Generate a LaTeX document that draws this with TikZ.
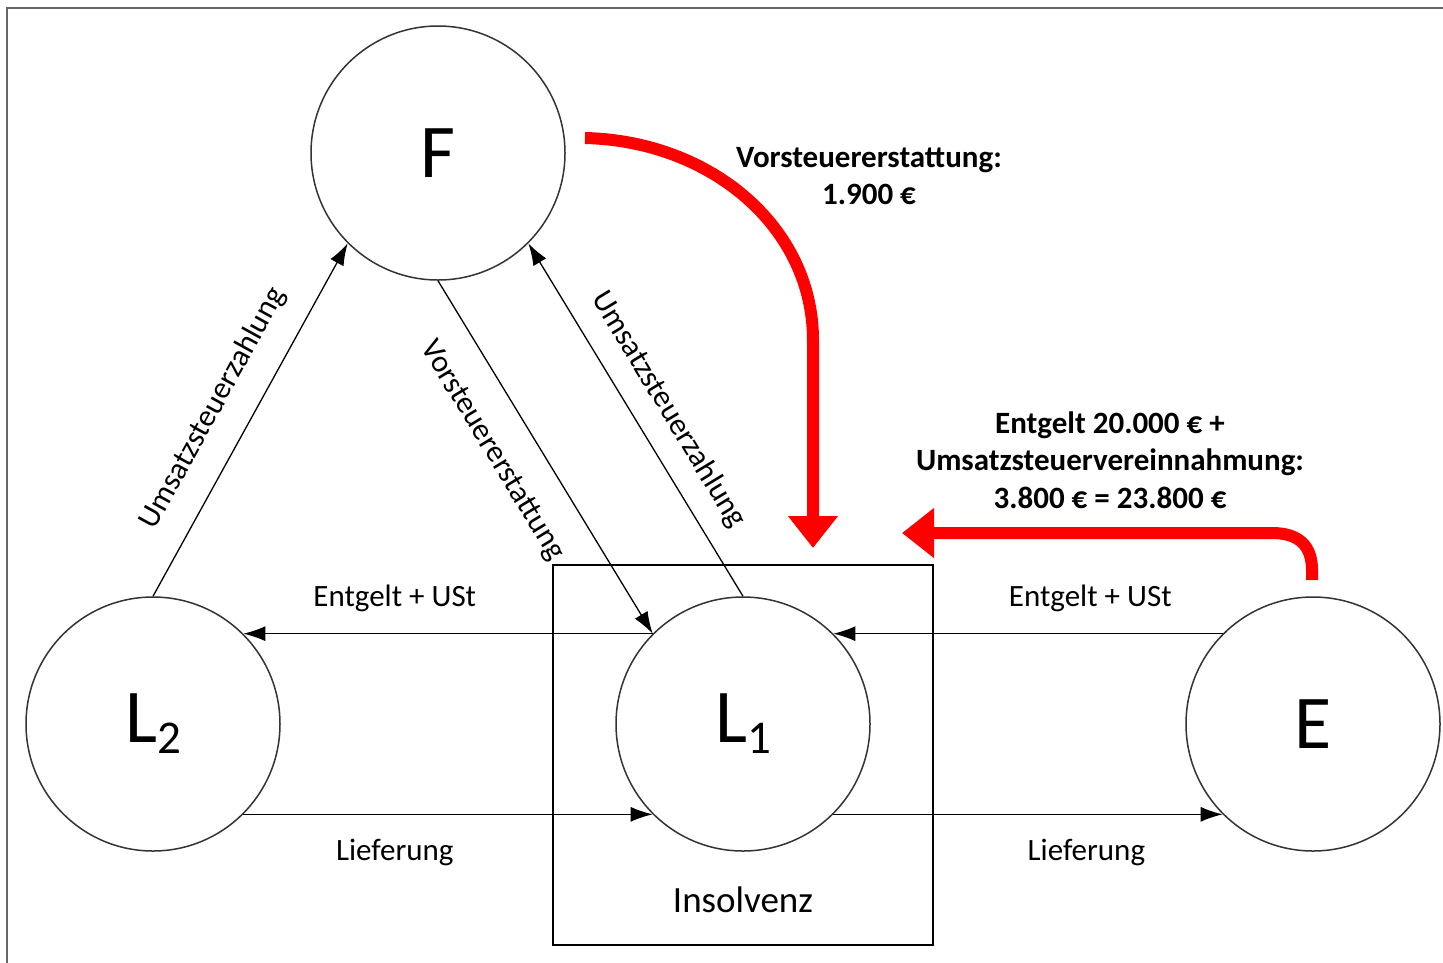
\documentclass[tikz,border=0pt]{standalone}
\usepackage{fontspec}
\setmainfont{Carlito}
\usetikzlibrary{arrows.meta}
\tikzset{> = {Latex[length=22pt,width=15pt]},
  party/.style={draw=black!80, line width=1.5pt, circle, minimum size=254pt,
    inner sep=0pt, font=\fontsize{76}{76}\selectfont},
  flow/.style={->, line width=1.3pt},
  lbl/.style={inner sep=0pt, font=\fontsize{31}{36}\selectfont},
  note/.style={inner sep=0pt, align=center, font=\fontsize{31}{37.5}\selectfont\bfseries},
  redarrow/.style={-{Triangle[width=48pt,length=32pt]}, line width=12pt, red}}
\newcommand{\idx}[1]{\raisebox{-11pt}{\fontsize{47}{47}\selectfont #1}}

\begin{document}
\begin{tikzpicture}[x=1pt,y=-1pt]
	\clip (0,0) rectangle (1443,962);
	\draw[line width=2.5pt, black!60] (7,8) rectangle (1470,990);
	\draw[line width=1.5pt] (553,565) rectangle (933,945);
	\node[inner sep=0pt, font=\fontsize{37}{37}\selectfont] (ins) at (743,900) {Insolvenz};

	\node[party] (F) at (438,153) {F};
	\node[party] (L2) at (153,724) {L\idx{2}};
	\node[party] (L1) at (743,724) {L\idx{1}};
	\node[party] (E) at (1313,724) {E};

	\draw[flow] (L2.north) -- node[lbl, sloped, above=24pt, pos=.48] {Umsatzsteuerzahlung} (F.225);
	\draw[flow] (F.south) -- node[lbl, sloped, below=29pt, pos=.42] {Vorsteuererstattung} (L1.135);
	\draw[flow] (L1.north) -- node[lbl, sloped, above=19pt, pos=.48] {Umsatzsteuerzahlung} (F.-45);
	\draw[flow] (L1.135) -- node[lbl, above=21pt, pos=.63] {Entgelt + USt} (L2.45);
	\draw[flow] (E.135) -- node[lbl, above=21pt, pos=.34] {Entgelt + USt} (L1.45);
	\draw[flow] (L2.-45) -- node[lbl, below=24pt, pos=.37] {Lieferung} (L1.225);
	\draw[flow] (L1.-45) -- node[lbl, below=24pt, pos=.65] {Lieferung} (E.225);

	% red arrows
	\coordinate (vs) at (585,138);
	\coordinate (vsEnd) at (813,548);
	\draw[redarrow] (vs) .. controls (712,141) and (813,228) .. (813,340) -- (vsEnd);
	\coordinate (ue) at (1312,580);
	\coordinate (ueEnd) at (902,533);
	\draw[redarrow] (ue) -- (1312,570) .. controls (1312,545) and (1298,533) .. (1272,533) -- (ueEnd);

	\node[note] (vsText) at (869,176) {Vorsteuererstattung:\\1.900 €};
	\node[note] (ueText) at (1110,460) {Entgelt 20.000 € +\\Umsatzsteuervereinnahmung:\\3.800 € = 23.800 €};
\end{tikzpicture}
\end{document}
